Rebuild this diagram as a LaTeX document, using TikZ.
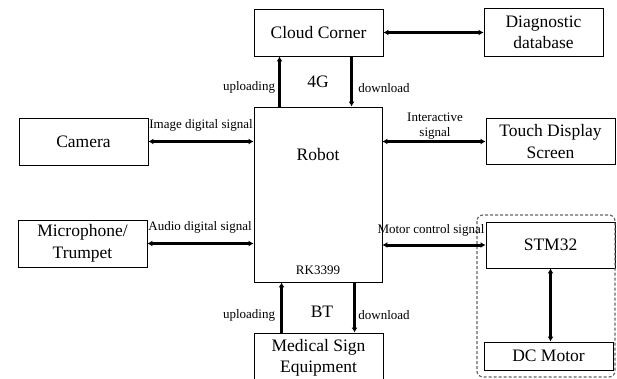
\documentclass[tikz,border=0pt]{standalone}
\usepackage{fontspec}
\setmainfont{Liberation Serif}
\usetikzlibrary{arrows.meta,calc}
\begin{document}
\begin{tikzpicture}[x=1pt,y=-1pt,
  blk/.style={draw=black,line width=0.9pt,inner sep=0pt,align=center,
    font=\fontsize{17.5}{21.5}\selectfont},
  lbl/.style={inner sep=0pt,align=center,font=\fontsize{13}{15}\selectfont},
  big/.style={inner sep=0pt,font=\fontsize{17.5}{20}\selectfont},
  conn/.style={line width=3pt,-{Latex[length=5pt,width=6pt]}},
  conn2/.style={line width=3pt,{Latex[length=5pt,width=6pt]}-{Latex[length=5pt,width=6pt]}}]
\useasboundingbox (0,0) rectangle (617,378);
% boxes
\node[blk,minimum width=129pt,minimum height=47pt] (cloud) at (318.5,32.5) {Cloud Corner};
\node[blk,minimum width=119pt,minimum height=48pt] (diag) at (543.5,32.5) {Diagnostic\\database};
\node[blk,minimum width=128pt,minimum height=175pt] (robot) at (318,194.5) {};
\node[blk,minimum width=129pt,minimum height=47pt] (cam) at (83.5,141.5) {Camera};
\node[blk,minimum width=129pt,minimum height=47pt] (mic) at (82.5,243.5) {Microphone/\\Trumpet};
\node[blk,minimum width=129pt,minimum height=46pt] (touch) at (550.5,141.5) {Touch Display\\Screen};
\node[blk,minimum width=129pt,minimum height=46pt] (stm) at (550.5,245) {STM32};
\node[blk,minimum width=129pt,minimum height=28pt] (dc) at (548.5,356) {DC Motor};
\node[blk,minimum width=129pt,minimum height=50pt] (med) at (318.5,358) {Medical Sign\\Equipment};
% robot texts
\node[big] (robtxt) at (318,155) {Robot};
\node[lbl] (rk) at (318,270) {RK3399};
% dashed group
\draw[draw=black!60,line width=1.2pt,dash pattern=on 3pt off 2pt,rounded corners=6pt]
  (477,215) rectangle (615,377);
% connectors
\draw[conn2] (cloud.east) -- (diag.west);
\draw[conn] ([xshift=26pt]robot.north west) -- ([xshift=26pt]robot.north west |- cloud.south);
\draw[conn] ([xshift=98pt]robot.north west |- cloud.south) -- ([xshift=98pt]robot.north west);
\draw[conn2] (cam.east) -- (cam.east -| robot.west);
\draw[conn2] (mic.east) -- (mic.east -| robot.west);
\draw[conn2] (touch.west -| robot.east) -- (touch.west);
\draw[conn2] (stm.west -| robot.east) -- (stm.west);
\draw[conn] ([xshift=28pt]robot.south west |- med.north) -- ([xshift=28pt]robot.south west);
\draw[conn] ([xshift=101pt]robot.south west) -- ([xshift=101pt]robot.south west |- med.north);
\draw[conn2] (stm.south) -- (stm.south |- dc.north);
% labels
\node[lbl] (up1) at (249,87) {uploading};
\node[big] (g4) at (318,82) {4G};
\node[lbl] (dn1) at (384,88) {download};
\node[lbl] (up2) at (249,315) {uploading};
\node[big] (bt) at (322,312) {BT};
\node[lbl] (dn2) at (384,315) {download};
\node[lbl] (imgl) at (201,125) {Image digital signal};
\node[lbl] (audl) at (200,227) {Audio digital signal};
\node[lbl] (intl) at (435,126) {Interactive\\signal};
\node[lbl] (motl) at (431,230) {Motor control signal};
\end{tikzpicture}
\end{document}
